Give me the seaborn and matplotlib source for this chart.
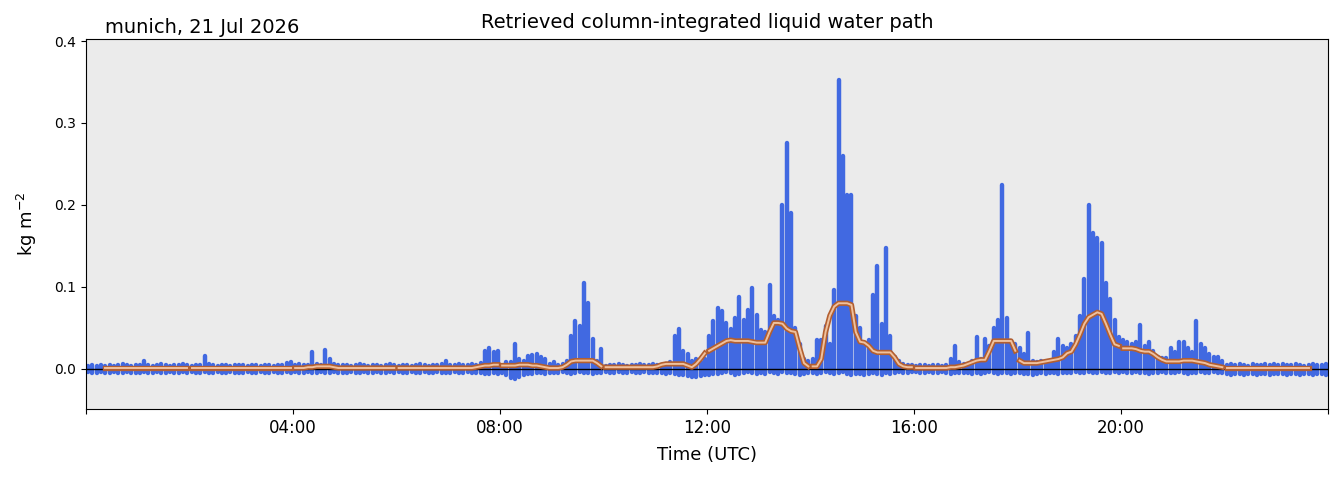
import numpy as np
import pandas as pd
import matplotlib
matplotlib.use('Agg')
import matplotlib.pyplot as plt
import matplotlib.patheffects as pe
import seaborn as sns

station = 'munich, 21 Jul 2026'
title = 'Retrieved column-integrated liquid water path'

# upper edge of the 1 s retrievals, 5-minute bins, one row per hour (kg m-2)
lwp_max = [
    [0.004, 0.005, 0.004, 0.005, 0.004, 0.005, 0.004, 0.005, 0.006, 0.005, 0.004, 0.005],  # 00
    [0.005, 0.009, 0.005, 0.004, 0.005, 0.006, 0.005, 0.004, 0.005, 0.005, 0.006, 0.005],  # 01
    [0.004, 0.005, 0.005, 0.016, 0.006, 0.005, 0.004, 0.005, 0.005, 0.004, 0.005, 0.005],  # 02
    [0.005, 0.004, 0.005, 0.005, 0.004, 0.005, 0.005, 0.004, 0.005, 0.005, 0.007, 0.008],  # 03
    [0.005, 0.006, 0.005, 0.005, 0.020, 0.006, 0.005, 0.023, 0.012, 0.006, 0.005, 0.005],  # 04
    [0.005, 0.004, 0.005, 0.006, 0.005, 0.004, 0.005, 0.005, 0.004, 0.005, 0.006, 0.005],  # 05
    [0.004, 0.005, 0.005, 0.004, 0.005, 0.006, 0.005, 0.004, 0.005, 0.005, 0.006, 0.010],  # 06
    [0.005, 0.005, 0.006, 0.005, 0.005, 0.006, 0.005, 0.007, 0.022, 0.026, 0.020, 0.022],  # 07
    [0.004, 0.008, 0.008, 0.030, 0.012, 0.010, 0.016, 0.017, 0.018, 0.015, 0.012, 0.006],  # 08
    [0.008, 0.005, 0.006, 0.010, 0.040, 0.058, 0.052, 0.105, 0.080, 0.036, 0.010, 0.024],  # 09
    [0.004, 0.005, 0.005, 0.006, 0.005, 0.004, 0.005, 0.005, 0.006, 0.005, 0.005, 0.006],  # 10
    [0.005, 0.004, 0.006, 0.008, 0.040, 0.048, 0.022, 0.018, 0.010, 0.012, 0.008, 0.012],  # 11
    [0.040, 0.058, 0.074, 0.070, 0.056, 0.048, 0.062, 0.088, 0.060, 0.072, 0.099, 0.066],  # 12
    [0.047, 0.045, 0.102, 0.065, 0.060, 0.200, 0.275, 0.190, 0.050, 0.030, 0.012, 0.010],  # 13
    [0.012, 0.035, 0.035, 0.052, 0.030, 0.096, 0.352, 0.260, 0.212, 0.212, 0.065, 0.050],  # 14
    [0.030, 0.035, 0.090, 0.125, 0.055, 0.148, 0.040, 0.015, 0.010, 0.006, 0.005, 0.005],  # 15
    [0.004, 0.005, 0.005, 0.004, 0.005, 0.005, 0.004, 0.005, 0.012, 0.028, 0.008, 0.006],  # 16
    [0.006, 0.010, 0.039, 0.012, 0.036, 0.028, 0.050, 0.060, 0.224, 0.062, 0.034, 0.030],  # 17
    [0.025, 0.018, 0.044, 0.010, 0.008, 0.009, 0.008, 0.009, 0.020, 0.036, 0.028, 0.026],  # 18
    [0.030, 0.040, 0.064, 0.110, 0.200, 0.166, 0.160, 0.153, 0.105, 0.085, 0.060, 0.039],  # 19
    [0.035, 0.033, 0.030, 0.033, 0.054, 0.028, 0.033, 0.022, 0.015, 0.013, 0.013, 0.025],  # 20
    [0.020, 0.033, 0.033, 0.026, 0.020, 0.058, 0.030, 0.025, 0.018, 0.015, 0.015, 0.010],  # 21
    [0.005, 0.006, 0.005, 0.006, 0.005, 0.004, 0.006, 0.005, 0.005, 0.006, 0.005, 0.006],  # 22
    [0.005, 0.006, 0.005, 0.005, 0.006, 0.005, 0.004, 0.005, 0.006, 0.005, 0.005, 0.006],  # 23
]

# lower edge of the retrievals
lwp_min = [
    [-0.004, -0.005, -0.005, -0.004, -0.005, -0.005, -0.004, -0.005, -0.005, -0.004, -0.005, -0.005],
    [-0.005, -0.004, -0.005, -0.005, -0.004, -0.005, -0.005, -0.004, -0.005, -0.005, -0.004, -0.005],
    [-0.004, -0.005, -0.005, -0.004, -0.005, -0.005, -0.004, -0.005, -0.005, -0.004, -0.005, -0.005],
    [-0.005, -0.004, -0.005, -0.005, -0.004, -0.005, -0.005, -0.004, -0.005, -0.005, -0.004, -0.005],
    [-0.004, -0.005, -0.005, -0.004, -0.005, -0.005, -0.004, -0.005, -0.005, -0.004, -0.005, -0.005],
    [-0.005, -0.004, -0.005, -0.005, -0.004, -0.005, -0.005, -0.004, -0.005, -0.005, -0.004, -0.005],
    [-0.004, -0.005, -0.005, -0.004, -0.005, -0.005, -0.004, -0.005, -0.005, -0.004, -0.005, -0.005],
    [-0.005, -0.004, -0.005, -0.005, -0.004, -0.005, -0.005, -0.005, -0.006, -0.006, -0.005, -0.006],
    [-0.005, -0.008, -0.011, -0.012, -0.010, -0.008, -0.006, -0.006, -0.005, -0.005, -0.006, -0.005],
    [-0.005, -0.005, -0.004, -0.005, -0.006, -0.005, -0.004, -0.005, -0.005, -0.006, -0.005, -0.005],
    [-0.004, -0.005, -0.005, -0.004, -0.005, -0.005, -0.004, -0.005, -0.005, -0.004, -0.005, -0.005],
    [-0.005, -0.005, -0.006, -0.005, -0.006, -0.007, -0.008, -0.009, -0.010, -0.010, -0.009, -0.008],
    [-0.007, -0.006, -0.006, -0.005, -0.004, -0.005, -0.008, -0.006, -0.005, -0.004, -0.005, -0.006],
    [-0.005, -0.006, -0.004, -0.005, -0.006, -0.004, -0.005, -0.005, -0.006, -0.007, -0.006, -0.005],
    [-0.005, -0.006, -0.005, -0.004, -0.005, -0.006, -0.005, -0.004, -0.006, -0.007, -0.006, -0.006],
    [-0.007, -0.006, -0.005, -0.006, -0.007, -0.005, -0.006, -0.005, -0.004, -0.005, -0.005, -0.004],
    [-0.004, -0.005, -0.005, -0.004, -0.005, -0.005, -0.004, -0.005, -0.006, -0.005, -0.005, -0.005],
    [-0.005, -0.006, -0.005, -0.006, -0.005, -0.004, -0.005, -0.006, -0.005, -0.005, -0.006, -0.005],
    [-0.005, -0.006, -0.006, -0.007, -0.006, -0.005, -0.006, -0.005, -0.005, -0.006, -0.005, -0.005],
    [-0.005, -0.004, -0.005, -0.005, -0.004, -0.005, -0.005, -0.004, -0.005, -0.005, -0.004, -0.005],
    [-0.004, -0.005, -0.005, -0.004, -0.005, -0.005, -0.006, -0.005, -0.005, -0.004, -0.005, -0.005],
    [-0.005, -0.004, -0.005, -0.006, -0.005, -0.005, -0.004, -0.005, -0.005, -0.004, -0.005, -0.005],
    [-0.006, -0.007, -0.006, -0.006, -0.007, -0.006, -0.006, -0.007, -0.006, -0.006, -0.007, -0.006],
    [-0.006, -0.006, -0.007, -0.006, -0.006, -0.007, -0.006, -0.006, -0.007, -0.006, -0.006, -0.007],
]

nan = np.nan
# running mean shown in orange
lwp_smooth = [
    [nan, nan, nan, nan, 0.001, 0.001, 0.001, 0.001, 0.001, 0.001, 0.001, 0.001],
    [0.001, 0.001, 0.001, 0.001, 0.001, 0.001, 0.001, 0.001, 0.001, 0.001, 0.001, 0.001],
    [0.001, 0.001, 0.001, 0.001, 0.001, 0.001, 0.001, 0.001, 0.001, 0.001, 0.001, 0.001],
    [0.001, 0.001, 0.001, 0.001, 0.001, 0.001, 0.001, 0.001, 0.001, 0.001, 0.001, 0.001],
    [0.001, 0.001, 0.001, 0.002, 0.002, 0.003, 0.003, 0.003, 0.003, 0.002, 0.001, 0.001],
    [0.001, 0.001, 0.001, 0.001, 0.001, 0.001, 0.001, 0.001, 0.001, 0.001, 0.001, 0.001],
    [0.001, 0.001, 0.001, 0.001, 0.001, 0.001, 0.001, 0.001, 0.001, 0.001, 0.001, 0.001],
    [0.001, 0.001, 0.001, 0.001, 0.001, 0.001, 0.002, 0.003, 0.004, 0.004, 0.005, 0.005],
    [0.004, 0.004, 0.004, 0.004, 0.005, 0.005, 0.005, 0.004, 0.004, 0.003, 0.002, 0.001],
    [0.001, 0.001, 0.002, 0.005, 0.009, 0.010, 0.010, 0.010, 0.010, 0.010, 0.007, 0.003],
    [0.002, 0.002, 0.002, 0.002, 0.002, 0.002, 0.002, 0.002, 0.002, 0.002, 0.002, 0.002],
    [0.003, 0.005, 0.006, 0.006, 0.006, 0.006, 0.006, 0.004, 0.002, 0.006, 0.012, 0.019],
    [0.022, 0.025, 0.028, 0.031, 0.034, 0.035, 0.034, 0.034, 0.034, 0.034, 0.033, 0.032],
    [0.032, 0.032, 0.045, 0.056, 0.056, 0.055, 0.049, 0.046, 0.045, 0.025, 0.007, 0.003],
    [0.003, 0.003, 0.012, 0.045, 0.065, 0.076, 0.080, 0.080, 0.080, 0.078, 0.045, 0.033],
    [0.032, 0.028, 0.022, 0.020, 0.020, 0.020, 0.020, 0.014, 0.006, 0.003, 0.002, 0.002],
    [0.001, 0.001, 0.001, 0.001, 0.001, 0.001, 0.001, 0.001, 0.002, 0.002, 0.003, 0.004],
    [0.006, 0.008, 0.010, 0.011, 0.011, 0.022, 0.034, 0.034, 0.034, 0.034, 0.034, 0.022],
    [0.010, 0.007, 0.007, 0.007, 0.007, 0.008, 0.009, 0.010, 0.011, 0.012, 0.014, 0.019],
    [0.021, 0.030, 0.042, 0.055, 0.063, 0.066, 0.069, 0.067, 0.055, 0.042, 0.030, 0.028],
    [0.025, 0.025, 0.025, 0.024, 0.022, 0.021, 0.021, 0.018, 0.014, 0.011, 0.009, 0.009],
    [0.009, 0.009, 0.010, 0.010, 0.010, 0.009, 0.008, 0.007, 0.005, 0.004, 0.003, 0.002],
    [0.001, 0.001, 0.001, 0.001, 0.001, 0.001, 0.001, 0.001, 0.001, 0.001, 0.001, 0.001],
    [0.001, 0.001, 0.001, 0.001, 0.001, 0.001, 0.001, 0.001, nan, nan, nan, nan],
]

hour_ticks = [0, 4, 8, 12, 16, 20, 24]
hour_labels = ['', '04:00', '08:00', '12:00', '16:00', '20:00', '']
y_ticks = [0.0, 0.1, 0.2, 0.3, 0.4]

# flatten into one table, bin centres in hours
rows = []
for h in range(24):
    for i in range(12):
        rows.append({'time': h + (i + 0.5) / 12,
                     'lwp_max': lwp_max[h][i],
                     'lwp_min': lwp_min[h][i],
                     'smooth': lwp_smooth[h][i]})
df = pd.DataFrame(rows)
df['file'] = (df['time'] // 2).astype(int)   # data come in 2-hour files

fig = plt.figure(figsize=(13.39, 4.78), dpi=100)
ax = fig.add_axes([0.0642, 0.1444, 0.9276, 0.774])
ax.set_facecolor('#ebebeb')

# retrieval cloud, round caps stand in for the marker size
ax.vlines(df['time'], df['lwp_min'], df['lwp_max'],
          color='royalblue', linewidth=3.2, capstyle='round', zorder=2)
ax.axhline(0, color='black', linewidth=1, zorder=3)
sns.lineplot(data=df, x='time', y='smooth', units='file', estimator=None,
             color='#efc19e', linewidth=1.4, ax=ax, zorder=4,
             path_effects=[pe.Stroke(linewidth=3.8, foreground='#b35f30'),
                           pe.Normal()])

ax.set_xlim(0, 24)
ax.set_ylim(-0.049, 0.4025)
ax.set_xticks(hour_ticks)
ax.set_xticklabels(hour_labels, fontsize=12)
ax.set_yticks(y_ticks)
ax.tick_params(axis='y', labelsize=10)
ax.set_xlabel('Time (UTC)', fontsize=13, labelpad=7)
ax.set_ylabel('kg m$^{-2}$', fontsize=13, labelpad=11)
ax.set_title(title, fontsize=14, pad=8)
ax.text(0.015, 1.016, station, transform=ax.transAxes,
        fontsize=14, ha='left', va='baseline')

fig.savefig('out.png', dpi=100)
plt.close()
